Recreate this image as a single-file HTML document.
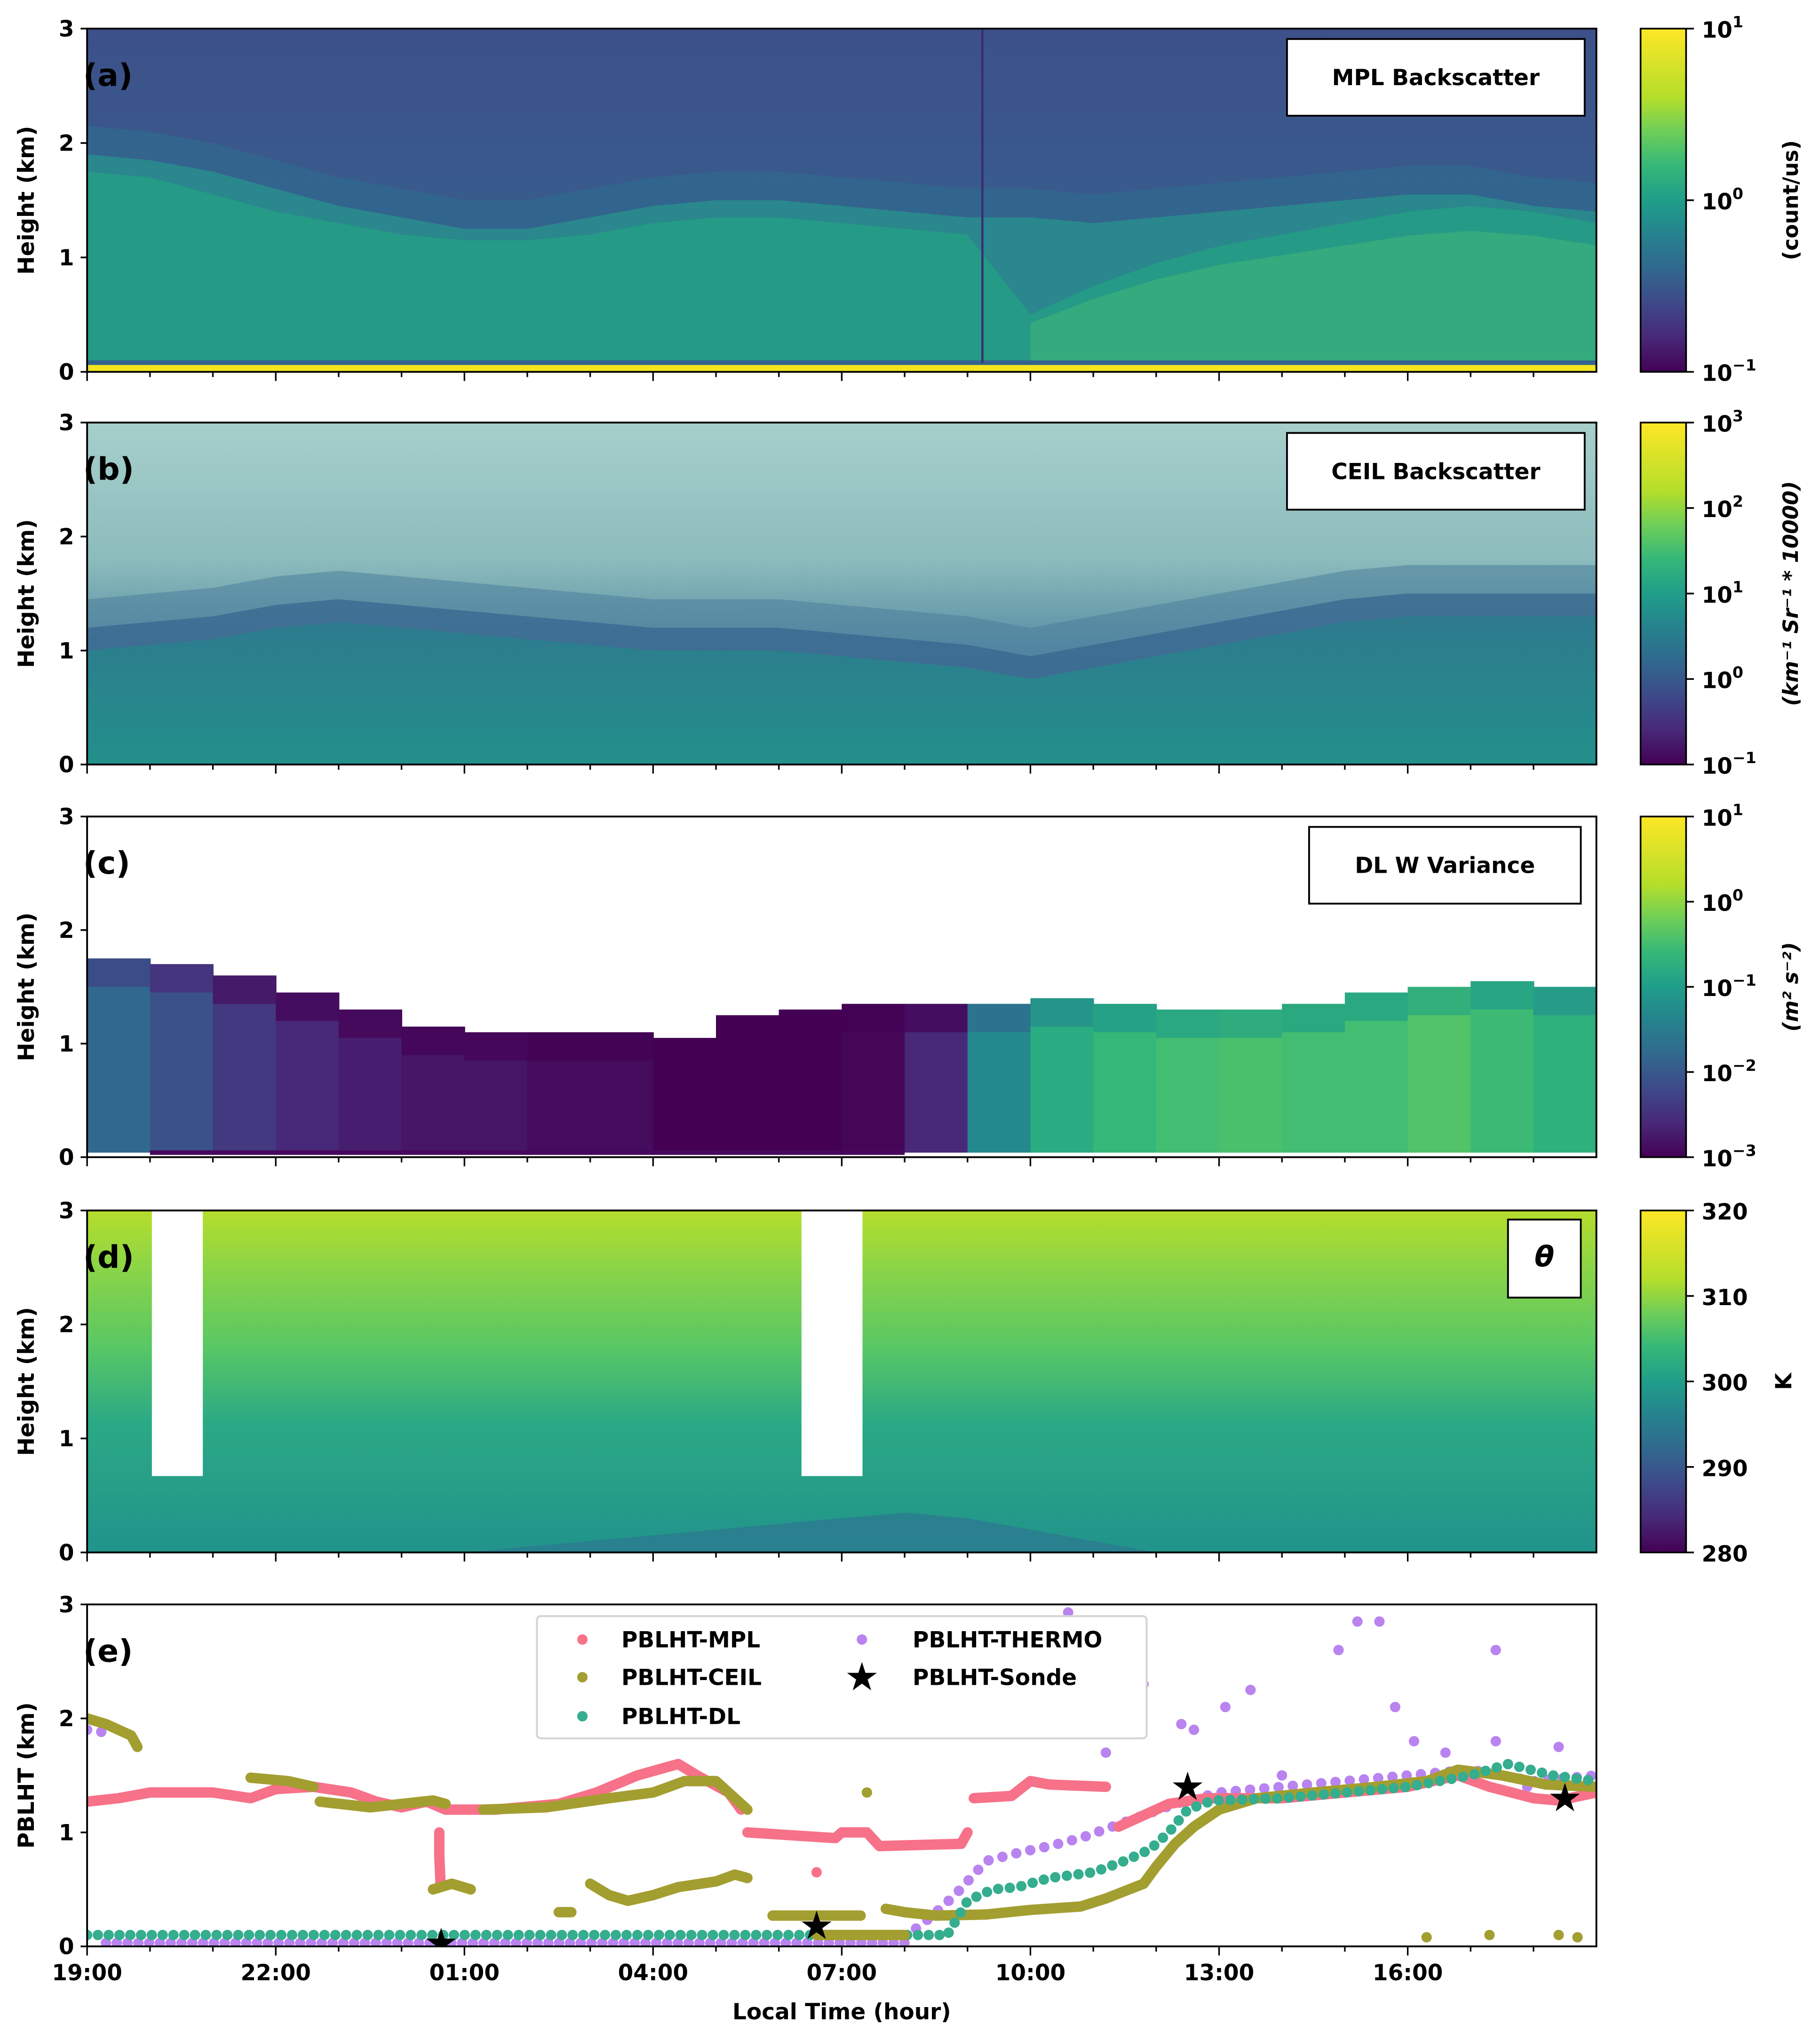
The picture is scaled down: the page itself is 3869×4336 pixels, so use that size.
<!DOCTYPE html>
<html><head><meta charset="utf-8"><style>
html,body{margin:0;padding:0;background:#fff}
svg{display:block}
text{font-family:"DejaVu Sans","Liberation Sans",sans-serif;font-weight:bold;fill:#000}
</style></head><body>
<svg id="fig" xmlns="http://www.w3.org/2000/svg" width="3869" height="4336" viewBox="0 0 1400 1569">
<defs>
<linearGradient id="viridis" x1="0" y1="1" x2="0" y2="0">
<stop offset="0" stop-color="#440154"/><stop offset="0.1" stop-color="#482878"/><stop offset="0.2" stop-color="#3e4989"/><stop offset="0.3" stop-color="#31688e"/><stop offset="0.4" stop-color="#26828e"/><stop offset="0.5" stop-color="#1f9e89"/><stop offset="0.6" stop-color="#35b779"/><stop offset="0.7" stop-color="#6ece58"/><stop offset="0.8" stop-color="#b5de2b"/><stop offset="1" stop-color="#fde725"/>
</linearGradient>
<linearGradient id="gA" x1="0" y1="0" x2="0" y2="1"><stop offset="0" stop-color="#3d508a"/><stop offset="0.5" stop-color="#385b8c"/><stop offset="1" stop-color="#33658d"/></linearGradient>
<linearGradient id="gB" x1="0" y1="0" x2="0" y2="1"><stop offset="0" stop-color="#a6cfcb"/><stop offset="0.4" stop-color="#8cbcbc"/><stop offset="0.65" stop-color="#5b8fa5"/><stop offset="1" stop-color="#3a6b90"/></linearGradient>
<linearGradient id="gBlow" x1="0" y1="0" x2="0" y2="1"><stop offset="0" stop-color="#2e7a8e"/><stop offset="1" stop-color="#23908b"/></linearGradient>
<linearGradient id="gD" x1="0" y1="0" x2="0" y2="1"><stop offset="0" stop-color="#b6dd2c"/><stop offset="0.15" stop-color="#8fd644"/><stop offset="0.4" stop-color="#58c765"/><stop offset="0.62" stop-color="#2ba985"/><stop offset="1" stop-color="#21938b"/></linearGradient>
</defs>
<g id="root"></g>
</svg>
<script>
// ---------- data ----------
const hours = [0,1,2,3,4,5,6,7,8,9,10,11,12,13,14,15,16,17,18,19,20,21,22,23,24];
const aTeal  = [1.9,1.85,1.75,1.6,1.45,1.35,1.25,1.25,1.35,1.45,1.5,1.5,1.45,1.4,1.35,1.35,1.3,1.35,1.4,1.45,1.5,1.55,1.55,1.45,1.4];
const aGreen = [1.75,1.7,1.55,1.4,1.3,1.2,1.15,1.15,1.2,1.3,1.35,1.35,1.3,1.25,1.2,0.5,0.75,0.95,1.1,1.2,1.3,1.4,1.45,1.4,1.3];
const bBound = [1.0,1.05,1.1,1.2,1.25,1.2,1.15,1.1,1.05,1.0,1.0,1.0,0.95,0.9,0.85,0.75,0.85,0.95,1.05,1.15,1.25,1.3,1.3,1.3,1.3];
const cTop   = [1.75,1.7,1.6,1.45,1.3,1.15,1.1,1.1,1.1,1.05,1.25,1.3,1.35,1.35,1.35,1.4,1.35,1.3,1.3,1.35,1.45,1.5,1.55,1.5,1.42];
const cLogVar= [-1.8,-2.1,-2.4,-2.6,-2.7,-2.8,-2.8,-2.9,-2.9,-3,-3,-3,-2.95,-2.6,-1.3,-0.8,-0.6,-0.5,-0.45,-0.5,-0.5,-0.4,-0.55,-0.7,-0.9];
const dCold  = [0,0,0,0,0,0,0,0.05,0.1,0.15,0.2,0.25,0.3,0.35,0.3,0.2,0.1,0,0,0,0,0,0,0,0];
const dGaps  = [[1.03,1.84],[11.36,12.33]];
const xTickLabels = ["19:00","22:00","01:00","04:00","07:00","10:00","13:00","16:00"];
const yTicks = [0,1,2,3];

const mplSegs = [
 [[0,1.27],[0.5,1.3],[1,1.35],[2,1.35],[2.6,1.3],[3,1.38],[3.6,1.4],[4.2,1.35],[4.6,1.27],[5.0,1.22],[5.4,1.27],[5.7,1.2],[6.5,1.2],[7.5,1.25],[8.1,1.35],[8.75,1.5],[9.4,1.6],[9.7,1.5],[10.2,1.35],[10.4,1.2]],
 [[10.5,1.0],[11.9,0.95],[12.0,1.0],[12.4,1.0],[12.6,0.88],[13.9,0.9],[14.0,1.0]],
 [[14.1,1.3],[14.7,1.32],[15.0,1.45],[15.3,1.42],[16.2,1.4]],
 [[16.4,1.05],[16.8,1.15],[17.2,1.25],[17.8,1.3],[19,1.3],[20,1.35],[21,1.4],[21.8,1.5],[22.3,1.4],[23,1.3],[23.4,1.28],[24,1.35]],
 [[5.6,1.0],[5.6,0.8],[5.62,0.55]],
 [[11.6,0.65]]
];
const ceilSegs = [
 [[0,2.0],[0.3,1.95],[0.7,1.85],[0.8,1.75]],
 [[2.6,1.48],[3.2,1.45],[3.6,1.4]],
 [[3.7,1.27],[4.5,1.22],[5.5,1.28],[5.7,1.25]],
 [[5.5,0.5],[5.8,0.55],[6.1,0.5]],
 [[6.3,1.2],[7.3,1.22],[8.3,1.3],[9,1.35],[9.5,1.45],[10,1.45],[10.3,1.3],[10.5,1.2]],
 [[7.5,0.3],[7.7,0.3]],
 [[8.0,0.55],[8.3,0.45],[8.6,0.4],[9.0,0.45],[9.4,0.52],[10.0,0.57],[10.3,0.63],[10.5,0.6]],
 [[10.9,0.27],[12.3,0.27]],
 [[12.4,1.35]],
 [[12.7,0.33],[13.0,0.3],[13.5,0.27],[14.3,0.28],[15.0,0.32],[15.8,0.35],[16.2,0.42],[16.8,0.55],[17.0,0.7],[17.3,0.9],[17.6,1.05],[18.0,1.2],[18.6,1.3],[19.5,1.35],[20.5,1.4],[21.3,1.45],[21.8,1.55],[22.5,1.5],[23.2,1.42],[24,1.4]],
 [[11.6,0.1],[13.0,0.1]],
 [[21.3,0.08]],[[22.3,0.1]],[[23.4,0.1]],[[23.7,0.08]]
];
const dlLow = [[0,0.1],[13.6,0.1]];
const dlSegs = [
 [[13.7,0.12],[14.0,0.4],[14.4,0.5],[14.8,0.52],[15.3,0.6],[16.0,0.65],[16.5,0.75],[16.9,0.85],[17.2,1.0],[17.5,1.2],[17.9,1.28],[19,1.3],[20,1.35],[21,1.4],[22,1.5],[22.6,1.6],[23.3,1.5],[24,1.45]]
];
const thermoLow = [[0.3,0.03],[13.0,0.03]];
const thermoSegs = [
 [[0,1.9],[0.25,1.88]],
 [[13.0,0.08],[13.4,0.25],[13.8,0.45],[14.3,0.75],[14.8,0.82],[15.3,0.88],[15.8,0.95],[16.3,1.05],[16.8,1.15],[17.3,1.25],[18,1.35],[19,1.4],[20,1.45],[21,1.5],[22,1.55],[23,1.45],[24,1.5]]
];
const thermoScatter = [[15.6,2.93],[16.2,1.7],[16.8,2.3],[17.4,1.95],[17.6,1.9],[18.1,2.1],[18.5,2.25],[19.0,1.5],[19.9,2.6],[20.2,2.85],[20.55,2.85],[20.8,2.1],[21.1,1.8],[21.6,1.7],[22.4,1.8],[22.4,2.6],[22.9,1.4],[23.4,1.75]];
const sondeT = [5.63,11.6,17.5,23.5];
const sondeV = [0.03,0.18,1.4,1.3];

// ---------- layout ----------
const NS = "http://www.w3.org/2000/svg";
const root = document.getElementById('root');
const L = 67, R = 1228;
const panels = [{top:22,bot:286},{top:325,bot:588},{top:628,bot:890},{top:931,bot:1194},{top:1234,bot:1497}];
const X = t => L + t*(R-L)/24;
const mkY = p => v => p.bot - v*(p.bot-p.top)/3;
function el(tag, attrs, parent){ const e=document.createElementNS(NS,tag); for(const k in attrs) e.setAttribute(k,attrs[k]); (parent||root).appendChild(e); return e; }
function viridis(f){
  const s=[[0,[68,1,84]],[0.1,[72,40,120]],[0.2,[62,73,137]],[0.3,[49,104,142]],[0.4,[38,130,142]],[0.5,[31,158,137]],[0.6,[53,183,121]],[0.7,[110,206,88]],[0.8,[181,222,43]],[1,[253,231,37]]];
  f=Math.max(0,Math.min(1,f));
  for(let i=1;i<s.length;i++){ if(f<=s[i][0]){ const a=s[i-1],b=s[i],u=(f-a[0])/(b[0]-a[0]); return 'rgb('+a[1].map((c,j)=>Math.round(c+(b[1][j]-c)*u)).join(',')+')'; } }
  return 'rgb(253,231,37)';
}
function areaPath(Y, arr, base){
  let d='M'+X(hours[0])+','+Y(base);
  hours.forEach((h,i)=>{ d+=' L'+X(h)+','+Y(arr[i]); });
  d+=' L'+X(hours[hours.length-1])+','+Y(base)+' Z';
  return d;
}
function clip(i,p){ const c=el('clipPath',{id:'clip'+i}); el('rect',{x:L,y:p.top,width:R-L,height:p.bot-p.top},c); return 'url(#clip'+i+')'; }

// ---------- panel a ----------
(function(){
  const p=panels[0], Y=mkY(p);
  const g=el('g',{'clip-path':clip(0,p)});
  
  
  el('rect',{x:L,y:p.top,width:R-L,height:p.bot-p.top,fill:'url(#gA)'},g);
  el('path',{d:areaPath(Y,aTeal.map(v=>v+0.25),0),fill:'#31698e',opacity:0.7},g);
  el('path',{d:areaPath(Y,aTeal,0),fill:'#2a878d'},g);
  el('path',{d:areaPath(Y,aGreen,0),fill:'#259a86'},g);
  let d='M'+X(15)+','+Y(0.08);
  hours.forEach((h,i)=>{ if(h>=15) d+=' L'+X(h)+','+Y(aGreen[i]*0.85); });
  d+=' L'+X(24)+','+Y(0.08)+' Z';
  el('path',{d:d,fill:'#37ad7d',opacity:0.85},g);
  el('rect',{x:L,y:Y(0.1),width:R-L,height:Y(0.06)-Y(0.1),fill:'#33638d'},g);
  el('rect',{x:L,y:Y(0.06),width:R-L,height:Y(0)-Y(0.06),fill:'#f5e51f'},g);
  el('rect',{x:X(14.22),y:p.top,width:1.6,height:Y(0.08)-p.top,fill:'#3a2a70'},g);
})();

// ---------- panel b ----------
(function(){
  const p=panels[1], Y=mkY(p);
  const g=el('g',{'clip-path':clip(1,p)});
  
  
  el('rect',{x:L,y:p.top,width:R-L,height:p.bot-p.top,fill:'url(#gB)'},g);
  el('path',{d:areaPath(Y,bBound.map(v=>v+0.45),0),fill:'#4d7f9d',opacity:0.55},g);
  el('path',{d:areaPath(Y,bBound.map(v=>v+0.2),0),fill:'#36648f',opacity:0.7},g);
  el('path',{d:areaPath(Y,bBound,0),fill:'url(#gBlow)'},g);
})();

// ---------- panel c ----------
(function(){
  const p=panels[2], Y=mkY(p);
  const g=el('g',{'clip-path':clip(2,p)});
  
  
  hours.slice(0,-1).forEach((h,i)=>{
    const top=cTop[i], col=viridis((cLogVar[i]+3)/4);
    el('rect',{x:X(h),y:Y(top),width:X(h+1)-X(h)+0.5,height:Y(0.04)-Y(top),fill:col},g);
    el('rect',{x:X(h),y:Y(top),width:X(h+1)-X(h)+0.5,height:Y(top-0.25)-Y(top),fill:viridis((cLogVar[i]+3)/4-0.12),opacity:0.7},g);
  });
  el('rect',{x:X(1),y:Y(0.06),width:X(13)-X(1),height:Y(0.02)-Y(0.06),fill:'#46085c'},g);
})();

// ---------- panel d ----------
(function(){
  const p=panels[3], Y=mkY(p);
  const g=el('g',{'clip-path':clip(3,p)});
  
  
  el('rect',{x:L,y:p.top,width:R-L,height:p.bot-p.top,fill:'url(#gD)'},g);
  el('path',{d:areaPath(Y,dCold,0),fill:'#2c7a8e',opacity:0.8},g);
  dGaps.forEach(gp=>{
    el('rect',{x:X(gp[0]),y:p.top,width:X(gp[1])-X(gp[0]),height:Y(0.67)-p.top,fill:'#fff'},g);
  });
})();

// ---------- panel e ----------
const colMPL='#f77189', colCEIL='#a39e30', colDL='#35ad8f', colTH='#b983f0';
(function(){
  const p=panels[4], Y=mkY(p);
  const g=el('g',{'clip-path':clip(4,p)});
  
  
  function segs(arr,color,name,dash){
    arr.forEach(s=>{
      if(s.length===1){ const c=el('circle',{cx:X(s[0][0]),cy:Y(s[0][1]),r:4,fill:color},g);   }
      else {
        const at={points:s.map(q=>X(q[0])+','+Y(q[1])).join(' '),fill:'none',stroke:color,'stroke-width':8,'stroke-linecap':'round','stroke-linejoin':'round'};
        if(dash) at['stroke-dasharray']=dash;
        const pl=el('polyline',at,g);   }
    });
  }
  function dotted(s,color,name){
    const ln=el('line',{x1:X(s[0][0]),y1:Y(s[0][1]),x2:X(s[1][0]),y2:Y(s[1][1]),stroke:color,'stroke-width':8,'stroke-linecap':'round','stroke-dasharray':'0 8.3'},g);
    
    
  }
  dotted(thermoLow,colTH,'pblht-thermo');
  segs(thermoSegs,colTH,'pblht-thermo','0 11');
  thermoScatter.forEach(q=>{ const c=el('circle',{cx:X(q[0]),cy:Y(q[1]),r:4,fill:colTH},g);   });
  dotted(dlLow,colDL,'pblht-dl');
  segs(mplSegs,colMPL,'pblht-mpl');
  segs(ceilSegs,colCEIL,'pblht-ceil');
  segs(dlSegs,colDL,'pblht-dl','0 9');
  sondeT.forEach((t,i)=>{
    const s=el('text',{x:X(t),y:Y(sondeV[i])+10,'text-anchor':'middle','font-size':30,'font-weight':'normal'},g);
    s.textContent='★';
    
    
  });
})();

// ---------- axes ----------
const panelLetters=['(a)','(b)','(c)','(d)','(e)'];
const titles=[{t:'MPL Backscatter',x:990,y:30,w:229,h:59},{t:'CEIL Backscatter',x:990,y:333,w:229,h:59},{t:'DL W Variance',x:1007,y:636,w:209,h:59},{t:'θ',x:1160,y:938,w:56,h:60}];
panels.forEach((p,i)=>{
  const Y=mkY(p);
  const ax=el('g',{});
  
  
  el('rect',{x:L,y:p.top,width:R-L,height:p.bot-p.top,fill:'none',stroke:'#000','stroke-width':1.4},ax);
  yTicks.forEach(v=>{
    el('line',{x1:L,x2:L-5,y1:Y(v),y2:Y(v),stroke:'#000','stroke-width':1.3},ax);
    const t=el('text',{x:L-10,y:Y(v)+6,'text-anchor':'end','font-size':17},ax); t.textContent=v;
    
    
  });
  for(let h=0;h<=23;h++){
    const major=h%3===0;
    el('line',{x1:X(h),x2:X(h),y1:p.bot,y2:p.bot+(major?7:4),stroke:'#000','stroke-width':1.2},ax);
    if(i===4 && major){
      const t=el('text',{x:X(h),y:p.bot+26,'text-anchor':'middle','font-size':17},ax); t.textContent=xTickLabels[h/3];
      
      
    }
  }
  const yl=el('text',{x:0,y:0,'text-anchor':'middle','font-size':17,transform:'translate(26,'+((p.top+p.bot)/2)+') rotate(-90)'},ax);
  yl.textContent = i===4?'PBLHT (km)':'Height (km)';
  
  
  const lt=el('text',{x:64,y:p.top+44,'font-size':24},ax); lt.textContent=panelLetters[i];
  
  
  if(i<4){
    const tb=titles[i];
    const bx=el('g',{},ax);
    
    
    el('rect',{x:tb.x,y:tb.y,width:tb.w,height:tb.h,fill:'#fff',stroke:'#000','stroke-width':1.4},bx);
    const tt=el('text',{x:tb.x+tb.w/2,y:tb.y+tb.h/2+6,'text-anchor':'middle','font-size':i===3?22:17,'font-style':i===3?'italic':'normal'},bx);
    tt.textContent=tb.t;
  }
});
const xt=el('text',{x:(L+R)/2,y:1553,'text-anchor':'middle','font-size':17}); xt.textContent='Local Time (hour)';



// ---------- colorbars ----------
const cbTicks=[[['1','1'],['1','0'],['1','−1']],[['1','3'],['1','2'],['1','1'],['1','0'],['1','−1']],[['1','1'],['1','0'],['1','−1'],['1','−2'],['1','−3']],[['320'],['310'],['300'],['290'],['280']]];
const cbLabels=['(count/us)','(km⁻¹ Sr⁻¹ * 10000)','(m² s⁻²)','K'];
for(let i=0;i<4;i++){
  const p=panels[i];
  const g=el('g',{});
  
  
  el('rect',{x:1262,y:p.top,width:35,height:p.bot-p.top,fill:'url(#viridis)',stroke:'#000','stroke-width':1.3},g);
  const tk=cbTicks[i], n=tk.length;
  tk.forEach((lab,j)=>{
    const y=p.top+j*(p.bot-p.top)/(n-1);
    el('line',{x1:1297,x2:1303,y1:y,y2:y,stroke:'#000','stroke-width':1.3},g);
    const t=el('text',{x:1309,y:y+7,'font-size':17},g);
    if(lab.length===1){ t.textContent=lab[0]; }
    else { const a=el('tspan',{},t); a.textContent='10'; const b=el('tspan',{dy:-8,'font-size':12},t); b.textContent=lab[1]; }
  });
  const cl=el('text',{x:0,y:0,'text-anchor':'middle','font-size':i===3?17:16,'font-style':(i===1||i===2)?'italic':'normal',transform:'translate('+(i===3?1378:1383)+','+((p.top+p.bot)/2)+') rotate(-90)'},g);
  cl.textContent=cbLabels[i];
  
  
}

// ---------- legend ----------
(function(){
  const g=el('g',{});
  
  
  el('rect',{x:413,y:1243,width:469,height:94,rx:3,fill:'#fff',stroke:'#d5d5d5','stroke-width':1.5},g);
  const entries=[['PBLHT-MPL',colMPL,448,478,1261],['PBLHT-CEIL',colCEIL,448,478,1290],['PBLHT-DL',colDL,448,478,1320],['PBLHT-THERMO',colTH,663,702,1261],['PBLHT-Sonde',null,663,702,1290]];
  entries.forEach(e=>{
    const eg=el('g',{},g);
    
    
    if(e[1]) el('circle',{cx:e[2],cy:e[4],r:4,fill:e[1]},eg);
    else { const s=el('text',{x:e[2],y:e[4]+10,'text-anchor':'middle','font-size':30,'font-weight':'normal'},eg); s.textContent='★'; }
    const t=el('text',{x:e[3],y:e[4]+6,'font-size':17},eg); t.textContent=e[0];
  });
})();
</script>
</body></html>
